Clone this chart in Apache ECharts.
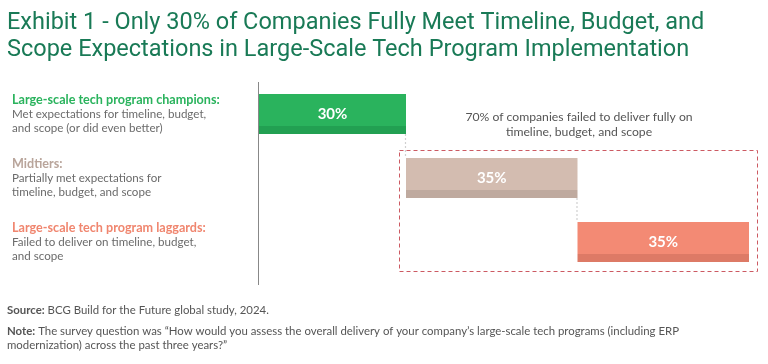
<!DOCTYPE html>
<html><head><meta charset="utf-8">
<script src="https://cdn.jsdelivr.net/npm/echarts@6/dist/echarts.min.js"></script>
<style>html,body{margin:0;padding:0;background:#fff}#c{width:768px;height:364px}</style>
</head><body><div id="c"></div>
<script>
const categories = ['champions', 'midtiers', 'laggards'];
const groupTitles = ['Large-scale tech program champions:', 'Midtiers:', 'Large-scale tech program laggards:'];
const groupDescs = [
  ['Met expectations for timeline, budget,', 'and scope (or did even better)'],
  ['Partially met expectations for', 'timeline, budget, and scope'],
  ['Failed to deliver on timeline, budget,', 'and scope']
];
const shares = [30, 35, 35];
const offsets = [0, 30, 65];
const barColors = ['#2AB35D', '#D3BCB0', '#F38A74'];
const stripColors = ['#22A052', '#BFAA9F', '#DD7A66'];
const titleColors = ['#2AB35D', '#B9A59B', '#F0866F'];
const titleText = 'Exhibit 1 - Only 30% of Companies Fully Meet Timeline, Budget, and\nScope Expectations in Large-Scale Tech Program Implementation';
const noteText = '70% of companies failed to deliver fully on\ntimeline, budget, and scope';

const chart = echarts.init(document.getElementById('c'));
const BW = 40;

const labelRich = {};
categories.forEach((c, i) => {
  labelRich['t' + i] = {color: titleColors[i], fontWeight: 'bold', fontSize: 12.6, lineHeight: 14.5, fontFamily: 'Lato'};
});
labelRich.d = {color: '#6b6b6b', fontSize: 11.6, lineHeight: 14.5, fontFamily: 'Lato'};

const footStyle = {fontSize: 11.4, fontFamily: 'Lato', color: '#555', fontWeight: 'normal', lineHeight: 13.5};
const option = {
  animation: false,
  title: [
    {text: titleText, left: 7, top: 10, padding: 0, textStyle: {color: '#197A56', fontSize: 23.5, fontWeight: 'normal', fontFamily: 'Roboto', lineHeight: 27}},
    {text: noteText, left: 579, top: 110, padding: 0, textAlign: 'center', textStyle: {color: '#555', fontSize: 12.2, fontWeight: 'normal', fontFamily: 'Lato', lineHeight: 15, align: 'center'}},
    {text: '{b|Source:} BCG Build for the Future global study, 2024.', left: 7, top: 304, padding: 0,
      textStyle: Object.assign({}, footStyle, {rich: {b: Object.assign({}, footStyle, {fontWeight: 'bold'})}})},
    {text: '{b|Note:} The survey question was \u201cHow would you assess the overall delivery of your company\u2019s large-scale tech programs (including ERP\nmodernization) across the past three years?\u201d', left: 7, top: 325, padding: 0,
      textStyle: Object.assign({}, footStyle, {rich: {b: Object.assign({}, footStyle, {fontWeight: 'bold'})}})}
  ],
  grid: {left: 259, right: 19, top: 82, height: 192},
  xAxis: {type: 'value', min: 0, max: 100, show: false},
  yAxis: {
    type: 'category', inverse: true, data: categories,
    axisLine: {show: false}, axisTick: {show: false},
    axisLabel: {
      align: 'left', margin: 247,
      formatter: (v, i) => '{t' + i + '|' + groupTitles[i] + '}\n' + groupDescs[i].map(s => '{d|' + s + '}').join('\n'),
      rich: labelRich
    }
  },
  series: [
    {type: 'bar', stack: 's', barWidth: BW, data: offsets, itemStyle: {color: 'transparent'}, silent: true},
    {type: 'bar', stack: 's', barWidth: BW,
      data: shares.map((v, i) => ({value: v, itemStyle: {color: new echarts.graphic.LinearGradient(0, 0, 0, 1, [
        {offset: 0, color: barColors[i]}, {offset: 0.8, color: barColors[i]},
        {offset: 0.8, color: stripColors[i]}, {offset: 1, color: stripColors[i]}])}})),
      label: {show: true, position: 'inside', formatter: '{c}%', color: '#fff', fontWeight: 'bold', fontSize: 15, fontFamily: 'Lato', offset: [0, 0]}
    }
  ]
};
chart.setOption(option);

function px(x, cat) { return chart.convertToPixel({gridIndex: 0}, [x, cat]); }
const x0 = px(0, 0)[0];
const graphics = [];
graphics.push({type: 'line', shape: {x1: x0 - 0.5, y1: 82, x2: x0 - 0.5, y2: 285}, style: {stroke: '#888', lineWidth: 1}});
for (let i = 0; i < shares.length - 1; i++) {
  const end = offsets[i] + shares[i];
  const a = px(end, i), b = px(end, i + 1);
  graphics.push({type: 'line', shape: {x1: a[0] - 0.5, y1: a[1] + BW / 2, x2: a[0] - 0.5, y2: b[1] - BW / 2}, style: {stroke: '#d0d0d0', lineWidth: 1.2, lineDash: [2, 2]}});
}
const l = px(offsets[1], 1)[0] - 7;
const r = px(offsets[2] + shares[2], 2)[0] + 8;
const t = px(0, 1)[1] - BW / 2 - 8;
const bt = px(0, 2)[1] + BW / 2 + 9;
graphics.push({type: 'rect', shape: {x: l + 0.5, y: t + 0.5, width: r - l, height: bt - t}, style: {fill: 'none', stroke: '#CC5A62', lineWidth: 1, lineDash: [4, 3]}, z: 10});
chart.setOption({graphic: graphics});
</script></body></html>
